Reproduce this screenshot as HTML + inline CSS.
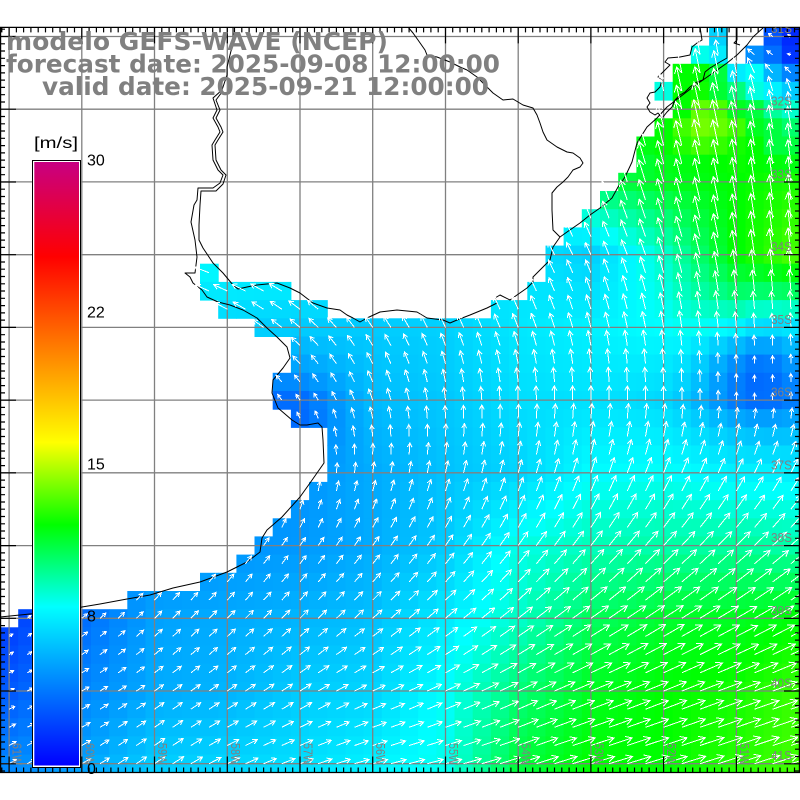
<!DOCTYPE html>
<html><head><meta charset="utf-8">
<style>html,body{margin:0;padding:0;background:#fff;overflow:hidden}svg{display:block}</style>
</head>
<body>
<svg id="s" xmlns="http://www.w3.org/2000/svg" width="800" height="800" viewBox="0 0 800 800">
<defs>
<linearGradient id="cb" x1="0" y1="0" x2="0" y2="1">
<stop offset="0" stop-color="rgb(200,0,130)"/>
<stop offset="0.157" stop-color="rgb(255,0,0)"/>
<stop offset="0.465" stop-color="rgb(255,255,0)"/>
<stop offset="0.601" stop-color="rgb(0,255,0)"/>
<stop offset="0.737" stop-color="rgb(0,255,255)"/>
<stop offset="1" stop-color="rgb(0,0,255)"/>
</linearGradient>
<clipPath id="map"><rect x="0" y="27.4" width="800" height="745"/></clipPath>
</defs>
<rect width="800" height="800" fill="#fff"/>
<g id="cells" clip-path="url(#map)"></g>
<g id="grid" stroke="#808080" stroke-width="1.3" clip-path="url(#map)">
<line x1="9.1" y1="27" x2="9.1" y2="773"/><line x1="81.8" y1="27" x2="81.8" y2="773"/><line x1="154.5" y1="27" x2="154.5" y2="773"/><line x1="227.3" y1="27" x2="227.3" y2="773"/><line x1="300" y1="27" x2="300" y2="773"/><line x1="372.7" y1="27" x2="372.7" y2="773"/><line x1="445.5" y1="27" x2="445.5" y2="773"/><line x1="518.2" y1="27" x2="518.2" y2="773"/><line x1="590.9" y1="27" x2="590.9" y2="773"/><line x1="663.6" y1="27" x2="663.6" y2="773"/><line x1="736.4" y1="27" x2="736.4" y2="773"/>
<line x1="0" y1="36.5" x2="800" y2="36.5"/><line x1="0" y1="109.2" x2="800" y2="109.2"/><line x1="0" y1="181.9" x2="800" y2="181.9"/><line x1="0" y1="254.7" x2="800" y2="254.7"/><line x1="0" y1="327.4" x2="800" y2="327.4"/><line x1="0" y1="400.1" x2="800" y2="400.1"/><line x1="0" y1="472.8" x2="800" y2="472.8"/><line x1="0" y1="545.6" x2="800" y2="545.6"/><line x1="0" y1="618.3" x2="800" y2="618.3"/><line x1="0" y1="691" x2="800" y2="691"/><line x1="0" y1="763.7" x2="800" y2="763.7"/>
</g>
<g fill="none" stroke="#000" stroke-width="1" stroke-linejoin="round" clip-path="url(#map)">
<path d="M0,617 L30,614 L60,611 L82,607 L100,604 L127,599 L150,595 L173,588 L200,582 L227,572 L247,562 L260,552 L262,538 L267,530 L282,517 L300,497 L310,483 L324,463 L323,440 L322,427 L318,423 L307,425 L300,425 L292,420 L278,408 L272,393 L273,380 L283,368 L290,358 L287,347 L277,337 L267,328 L257,318 L243,310 L230,305 L218,302 L207,297 L202,290 L193,283 L190,277 L185,273 L195,273 L197,257 L195,240 L191,222 L194,205 L197,200 L198,188 L213,188 L220,183 L223,175 L218,170 L213,160 L212,145 L215,140 L220,132 L218,127 L213,118 L217,110 L213,98 L222,90 L227,75 L227,67 L233,43 L233,27"/>
<path d="M222,92 L216,100 L220,110 L216,118 L221,127 L223,132 L218,140 L215,145 L216,160 L221,170 L226,175 L223,184 L216,191 L201,191 L200,205 L199,225 L199,240 L203,248 L213,263 L223,273 L233,285 L238,289 L247,287 L257,285 L267,284 L277,283 L290,288 L300,293 L313,303 L327,308 L340,310 L347,315 L353,318 L360,322 L367,318 L380,312 L397,310 L417,312 L427,318 L443,320 L450,323 L457,320 L470,315 L487,308 L497,303 L495,298 L500,295 L510,300 L517,295 L527,288 L533,282 L533,277 L543,267 L550,260 L553,247 L560,237 L567,232 L580,223 L590,215 L600,208 L612,198 L618,187 L625,177 L632,162 L637,143 L647,127 L657,118 L667,107 L680,97 L693,87 L710,75 L727,63 L737,55 L747,45 L753,37 L763,28"/>
<path d="M408,27 L413,33 L418,40 L425,50 L427,55 L437,57 L450,62 L460,67 L467,70 L477,77 L487,87 L493,93 L503,100 L513,99 L523,105 L533,108 L537,115 L540,123 L543,132 L547,140 L557,147 L567,152 L573,153 L580,158 L583,163 L580,167 L573,170 L568,177 L563,182 L557,187 L552,193 L552,210 L553,230 L560,237"/>
<path d="M700,27 L702,40 L697,43 L692,47 L690,55 L680,57 L668,58 L665,62 L670,65 L667,68 L658,77 L662,80 L660,87 L655,92 L650,93 L647,98 L650,103 L647,107 L650,112 L655,115 L658,113 L662,118"/>
<path d="M727,28 L727,58 L720,62 L710,68 L705,72 L703,80 L697,82 L690,87 L685,92 L680,95 L675,100 L672,107 L667,112 L663,117"/>
<path d="M737,27 L737,40 L734,43 L740,45"/>
</g>
<path id="arr" fill="none" stroke="#fff" stroke-width="1" shape-rendering="crispEdges" clip-path="url(#map)"/>
<path id="ticks" fill="none" stroke="#000" stroke-width="1.2"/>
<g font-family="'Liberation Sans', sans-serif" font-size="13" fill="#808080" clip-path="url(#map)">
<text x="771" y="33" textLength="21" lengthAdjust="spacingAndGlyphs">31S</text>
<text x="771" y="105.7" textLength="21" lengthAdjust="spacingAndGlyphs">32S</text>
<text x="771" y="178.4" textLength="21" lengthAdjust="spacingAndGlyphs">33S</text>
<text x="771" y="251.2" textLength="21" lengthAdjust="spacingAndGlyphs">34S</text>
<text x="771" y="323.9" textLength="21" lengthAdjust="spacingAndGlyphs">35S</text>
<text x="771" y="396.6" textLength="21" lengthAdjust="spacingAndGlyphs">36S</text>
<text x="771" y="469.3" textLength="21" lengthAdjust="spacingAndGlyphs">37S</text>
<text x="771" y="542.1" textLength="21" lengthAdjust="spacingAndGlyphs">38S</text>
<text x="771" y="614.8" textLength="21" lengthAdjust="spacingAndGlyphs">39S</text>
<text x="771" y="687.5" textLength="21" lengthAdjust="spacingAndGlyphs">40S</text>
<text x="771" y="760.2" textLength="21" lengthAdjust="spacingAndGlyphs">41S</text>
<text transform="translate(12.6,743) rotate(90)" textLength="22" lengthAdjust="spacingAndGlyphs">61W</text>
<text transform="translate(85.3,743) rotate(90)" textLength="22" lengthAdjust="spacingAndGlyphs">60W</text>
<text transform="translate(158,743) rotate(90)" textLength="22" lengthAdjust="spacingAndGlyphs">59W</text>
<text transform="translate(230.8,743) rotate(90)" textLength="22" lengthAdjust="spacingAndGlyphs">58W</text>
<text transform="translate(303.5,743) rotate(90)" textLength="22" lengthAdjust="spacingAndGlyphs">57W</text>
<text transform="translate(376.2,743) rotate(90)" textLength="22" lengthAdjust="spacingAndGlyphs">56W</text>
<text transform="translate(449,743) rotate(90)" textLength="22" lengthAdjust="spacingAndGlyphs">55W</text>
<text transform="translate(521.7,743) rotate(90)" textLength="22" lengthAdjust="spacingAndGlyphs">54W</text>
<text transform="translate(594.4,743) rotate(90)" textLength="22" lengthAdjust="spacingAndGlyphs">53W</text>
<text transform="translate(667.1,743) rotate(90)" textLength="22" lengthAdjust="spacingAndGlyphs">52W</text>
<text transform="translate(739.9,743) rotate(90)" textLength="22" lengthAdjust="spacingAndGlyphs">51W</text>
</g>
<rect x="32" y="160" width="49" height="608" fill="#000"/>
<rect x="33" y="161" width="47" height="606" fill="#fff"/>
<rect x="34.3" y="162" width="44.7" height="603.5" fill="url(#cb)"/>
<g font-family="'Liberation Sans', sans-serif" font-size="16" fill="#000">
<text x="34" y="148" textLength="44" lengthAdjust="spacingAndGlyphs">[m/s]</text>
<text x="87" y="165.5">30</text>
<text x="87" y="317.5">22</text>
<text x="87" y="469.5">15</text>
<text x="87" y="621.5">8</text>
<text x="87" y="774">0</text>
</g>
<g font-family="'DejaVu Sans', 'Liberation Sans', sans-serif" font-weight="bold" font-size="24.5" fill="#808080">
<text x="6" y="50" textLength="382" lengthAdjust="spacingAndGlyphs">modelo GEFS-WAVE (NCEP)</text>
<text x="6" y="72.5" textLength="494" lengthAdjust="spacingAndGlyphs">forecast date: 2025-09-08 12:00:00</text>
<text x="42" y="95" textLength="447" lengthAdjust="spacingAndGlyphs">valid date: 2025-09-21 12:00:00</text>
</g>
</svg>
<script>
(function(){
var NS='http://www.w3.org/2000/svg';
var CW=800/44, CH=18.18, Y0=27.4, Y1=772.5;
var V=[
[7,7,7,7,7,7,7,7,8,10,6,1.5],
[7,7,7,7,7,7,7,7,9,12,12.5,9],
[7,7,7,7,7,7,7,8,10.5,11.5,12,12.5],
[6.5,6.5,8,8,8,8,7.5,7,6.5,8.8,12,13.5],
[6.5,6.5,6.5,6.5,6.3,6.3,6.5,7.2,7.5,8,9.5,8],
[3.5,3.5,3.5,3.5,4.2,5.8,6.2,6.9,7,6.8,5.8,5],
[4.5,4.5,4.5,4.5,4.6,5.3,6,6.6,7.8,8,7.5,7.5],
[4.5,4.5,4.5,4.6,4.7,5.3,6.3,8.2,9,9.3,9.5,9.2],
[1.9,3.4,5,5.3,5.6,6,7.3,8.8,10.5,11.3,11.5,12],
[2.8,4.1,5.3,5.6,6.3,6.6,8,10.1,11.5,12,12.3,13],
[4.2,5,6.3,6.6,6.9,7.5,8.2,11,12,12,12.6,13.1]];
var A=[
[100,100,100,100,100,100,100,100,100,100,100,145],
[105,105,105,105,105,105,105,105,105,103,102,100],
[110,110,110,110,110,110,110,110,110,106,100,95],
[165,165,165,160,155,145,130,120,115,108,100,95],
[150,150,150,150,140,125,115,112,105,100,95,92],
[130,130,130,130,125,110,97,92,90,90,90,90],
[95,95,95,95,88,82,78,75,72,68,65,62],
[55,55,55,55,55,55,55,55,52,48,45,42],
[35,40,45,45,45,42,40,38,35,33,30,30],
[25,30,35,35,32,25,25,25,22,22,20,20],
[30,30,35,25,20,15,15,18,17,17,18,18]];
var OV={
'0,39':6.5,'0,42':2.6,'0,43':1.3,
'1,38':8.2,'1,39':7.3,'1,41':4.4,'1,42':3.4,'1,43':1.6,
'2,37':12,'2,38':12,'2,39':11,'2,40':7.3,'2,41':8,'2,42':5.6,'2,43':4.1,
'3,36':8.4,'3,37':12,'3,38':12.2,'3,39':11.2,'3,40':10,'3,41':8.4,'3,42':7.5,'3,43':6.3,
'4,37':12,'4,38':13.5,'4,39':13.2,'4,40':11.5,'4,41':11,'4,42':9.5,'4,43':8.7,
'5,36':12,'5,37':13,'5,38':13.8,'5,39':13.6,'5,40':13,'5,41':11.5,'5,42':11,'5,43':10.3,
'6,35':11.7,'6,36':12,'6,37':12.5,'6,38':13,'6,39':12.8,'6,40':12.3,'6,41':12,'6,42':11,'6,43':11};
var OA={'0,39':95,'0,42':145,'0,43':150,'1,38':100,'1,39':100,'1,41':140,'1,42':145,'1,43':165,'2,42':130,'2,43':135,'2,41':115};
var bumps=[[41,18,-3.6,2.0],[16,21,-1,1.5]];
function bil(G,c,r){var fr=r/4,fc=c/4;var i=Math.min(Math.floor(fr),9),j=Math.min(Math.floor(fc),10);var tr=fr-i,tc=fc-j;
return G[i][j]*(1-tr)*(1-tc)+G[i][j+1]*(1-tr)*tc+G[i+1][j]*tr*(1-tc)+G[i+1][j+1]*tr*tc;}
var S=[0,0,37,36,37,36,35,35,34,33,32,31,30,30,29,27,14,16,16,15,15,16,18,18,18,17,16,15,14,13,11,7,1];
function ocean(r,c){
 if(r==0) return c==39||c>=42;
 if(r==1) return c==38||c==39||c>=41;
 if(r==13) return c==11||c>=30;
 if(r==14) return (c>=11&&c<=15)||c>=29;
 if(r==15) return (c>=12&&c<=17)||c>=27;
 if(r>=33) return true;
 return c>=S[r];
}
var st=[[0,0,0,255],[7.9,0,255,255],[12,0,255,0],[16,255,255,0],[25.2,255,0,0],[30,200,0,130]];
function col(v){
 if(v<=0) return 'rgb(0,0,255)';
 for(var k=1;k<st.length;k++){ if(v<=st[k][0]){var a=st[k-1],b=st[k];var t=(v-a[0])/(b[0]-a[0]);
  return 'rgb('+Math.round(a[1]+(b[1]-a[1])*t)+','+Math.round(a[2]+(b[2]-a[2])*t)+','+Math.round(a[3]+(b[3]-a[3])*t)+')';}}
 return 'rgb(200,0,130)';
}
var g=document.getElementById('cells');
var d='';
function f(x){return Math.round(x*10)/10;}
for(var r=0;r<41;r++){
 for(var c=0;c<44;c++){
  if(!ocean(r,c)) continue;
  var key=r+','+c;
  var v;
  if(OV.hasOwnProperty(key)) v=OV[key];
  else { v=bil(V,c,r); for(var b=0;b<bumps.length;b++){var B=bumps[b];var dd=(c-B[0])*(c-B[0])+(r-B[1])*(r-B[1]);v+=B[2]*Math.exp(-dd/(2*B[3]*B[3]));} }
  var a=OA.hasOwnProperty(key)?OA[key]:bil(A,c,r);
  var rc=document.createElementNS(NS,'rect');
  rc.setAttribute('x',f(c*CW)); rc.setAttribute('y',f(Y0+r*CH));
  rc.setAttribute('width',f(CW+0.5)); rc.setAttribute('height',f(CH+0.5));
  rc.setAttribute('fill',col(v));
  g.appendChild(rc);
  var cx=c*CW+CW/2, cy=Y0+r*CH+CH/2;
  var L=Math.max(3.5,2.05*v), th=a*Math.PI/180;
  var hx=cx+L*Math.cos(th), hy=cy-L*Math.sin(th);
  var h=2.5+0.2*L;
  var b1=th+Math.PI-0.5, b2=th+Math.PI+0.5;
  d+='M'+f(cx)+' '+f(cy)+'L'+f(hx)+' '+f(hy)+'M'+f(hx+h*Math.cos(b1))+' '+f(hy-h*Math.sin(b1))+'L'+f(hx)+' '+f(hy)+'L'+f(hx+h*Math.cos(b2))+' '+f(hy-h*Math.sin(b2));
 }
}
document.getElementById('arr').setAttribute('d',d);
var t='M0 '+Y0+'H800M0 '+Y1+'H800M0.6 '+Y0+'V'+Y1+'M799.4 '+Y0+'V'+Y1;
var sp=72.727/10;
for(var j=-2;j<112;j++){
 var x=9.09+sp*j; var len=(((j%10)+10)%10==0)?16:5;
 if(x>=0&&x<=800){ t+='M'+f(x)+' '+Y0+'v'+len+'M'+f(x)+' '+Y1+'v-'+len; }
 var y=36.5+sp*j;
 if(y>=Y0&&y<=Y1){ t+='M0 '+f(y)+'h'+len+'M800 '+f(y)+'h-'+len; }
}
document.getElementById('ticks').setAttribute('d',t);
})();
</script>
</body></html>
